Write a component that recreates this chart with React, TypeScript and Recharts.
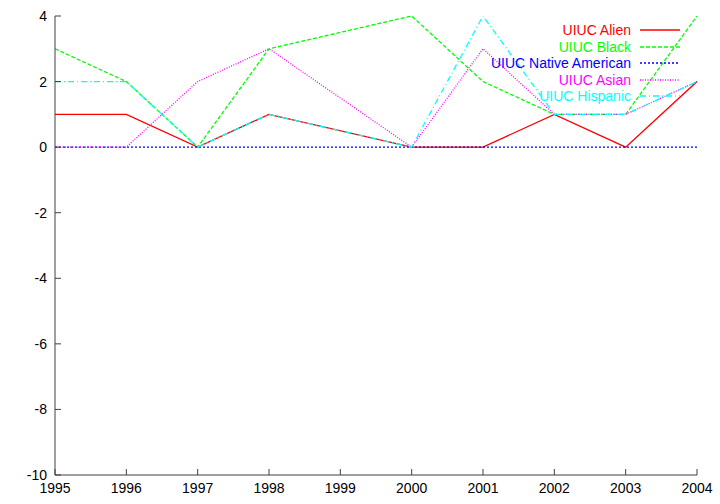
import React from 'react';
import { LineChart, Line, XAxis, YAxis } from 'recharts';

const years = [1995, 1996, 1997, 1998, 1999, 2000, 2001, 2002, 2003, 2004];
// no sample at 1999 in the source plot, lines run straight across it
const alien = [1, 1, 0, 1, null, 0, 0, 1, 0, 2];
const black = [3, 2, 0, 3, null, 4, 2, 1, 1, 4];
const nativeAmerican = [0, 0, 0, 0, null, 0, 0, 0, 0, 0];
const asian = [0, 0, 2, 3, null, 0, 3, 1, 1, 2];
const hispanic = [2, 2, 0, 1, null, 0, 4, 1, 1, 2];
const yTicks = [-10, -8, -6, -4, -2, 0, 2, 4];

const series = [
  { key: 'alien', name: 'UIUC Alien', color: '#ff0000', dash: undefined },
  { key: 'black', name: 'UIUC Black', color: '#00ff00', dash: '4 2' },
  { key: 'native', name: 'UIUC Native American', color: '#0000ff', dash: '2 2' },
  { key: 'asian', name: 'UIUC Asian', color: '#ff00ff', dash: '1 1.5' },
  { key: 'hispanic', name: 'UIUC Hispanic', color: '#00ffff', dash: '6 3 1 3' },
];

const FONT = '"Liberation Sans", Arial, Helvetica, sans-serif';
const AXIS = '#404040';

const data = years.map((year, i) => ({
  year,
  alien: alien[i],
  black: black[i],
  native: nativeAmerican[i],
  asian: asian[i],
  hispanic: hispanic[i],
}));

const BottomTick = (props: any) => {
  const { x, y, payload } = props;
  return (
    <g>
      <line x1={x} y1={y} x2={x} y2={y - 6} stroke={AXIS} />
      <text x={x} y={y + 18} textAnchor="middle" fontSize={14} fontFamily={FONT} fill="#000">
        {payload.value}
      </text>
    </g>
  );
};

const TopTick = (props: any) => {
  const { x, y } = props;
  return <line x1={x} y1={y} x2={x} y2={y + 6} stroke={AXIS} />;
};

const LeftTick = (props: any) => {
  const { x, y, payload } = props;
  return (
    <g>
      <line x1={x} y1={y} x2={x + 6} y2={y} stroke={AXIS} />
      <text x={x - 8} y={y + 5} textAnchor="end" fontSize={14} fontFamily={FONT} fill="#000">
        {payload.value}
      </text>
    </g>
  );
};

const RightTick = (props: any) => {
  const { x, y } = props;
  return <line x1={x} y1={y} x2={x - 6} y2={y} stroke={AXIS} />;
};

export default function App() {
  return (
    <div style={{ position: 'absolute', left: 0, top: 0, width: 720, height: 504, background: '#fff' }}>
      <LineChart width={720} height={504} data={data} margin={{ top: 16, right: 23, bottom: 0, left: 0 }}>
        <XAxis
          dataKey="year"
          type="number"
          domain={[1995, 2004]}
          ticks={years}
          height={29}
          tickSize={0}
          tickMargin={0}
          tickLine={false}
          tick={<BottomTick />}
          axisLine={{ stroke: AXIS }}
          allowDataOverflow
        />
        <XAxis
          xAxisId="top"
          orientation="top"
          dataKey="year"
          type="number"
          domain={[1995, 2004]}
          ticks={years}
          height={0}
          tickSize={0}
          tickMargin={0}
          tickLine={false}
          tick={<TopTick />}
          axisLine={{ stroke: AXIS }}
          allowDataOverflow
        />
        <YAxis
          type="number"
          domain={[-10, 4]}
          ticks={yTicks}
          width={55}
          tickSize={0}
          tickMargin={0}
          tickLine={false}
          tick={<LeftTick />}
          axisLine={{ stroke: AXIS }}
          allowDataOverflow
        />
        <YAxis
          yAxisId="right"
          orientation="right"
          type="number"
          domain={[-10, 4]}
          ticks={yTicks}
          width={0}
          tickSize={0}
          tickMargin={0}
          tickLine={false}
          tick={<RightTick />}
          axisLine={{ stroke: AXIS }}
          allowDataOverflow
        />
        {series.map(s => (
          <Line
            key={s.key}
            dataKey={s.key}
            name={s.name}
            stroke={s.color}
            strokeWidth={1.3}
            strokeDasharray={s.dash}
            dot={false}
            activeDot={false}
            connectNulls
            isAnimationActive={false}
          />
        ))}
      </LineChart>
      {/* legend sits inside the plot, top right, like gnuplot's key */}
      <div style={{ position: 'absolute', top: 22, right: 40, fontFamily: FONT, fontSize: 14 }}>
        {series.map(s => (
          <div key={s.key} style={{ display: 'flex', justifyContent: 'flex-end', alignItems: 'center', height: 16.5 }}>
            <span style={{ color: s.color, marginRight: 9, whiteSpace: 'nowrap' }}>{s.name}</span>
            <svg width={40} height={6}>
              <line x1={0} y1={3} x2={40} y2={3} stroke={s.color} strokeWidth={1.3} strokeDasharray={s.dash} />
            </svg>
          </div>
        ))}
      </div>
    </div>
  );
}
